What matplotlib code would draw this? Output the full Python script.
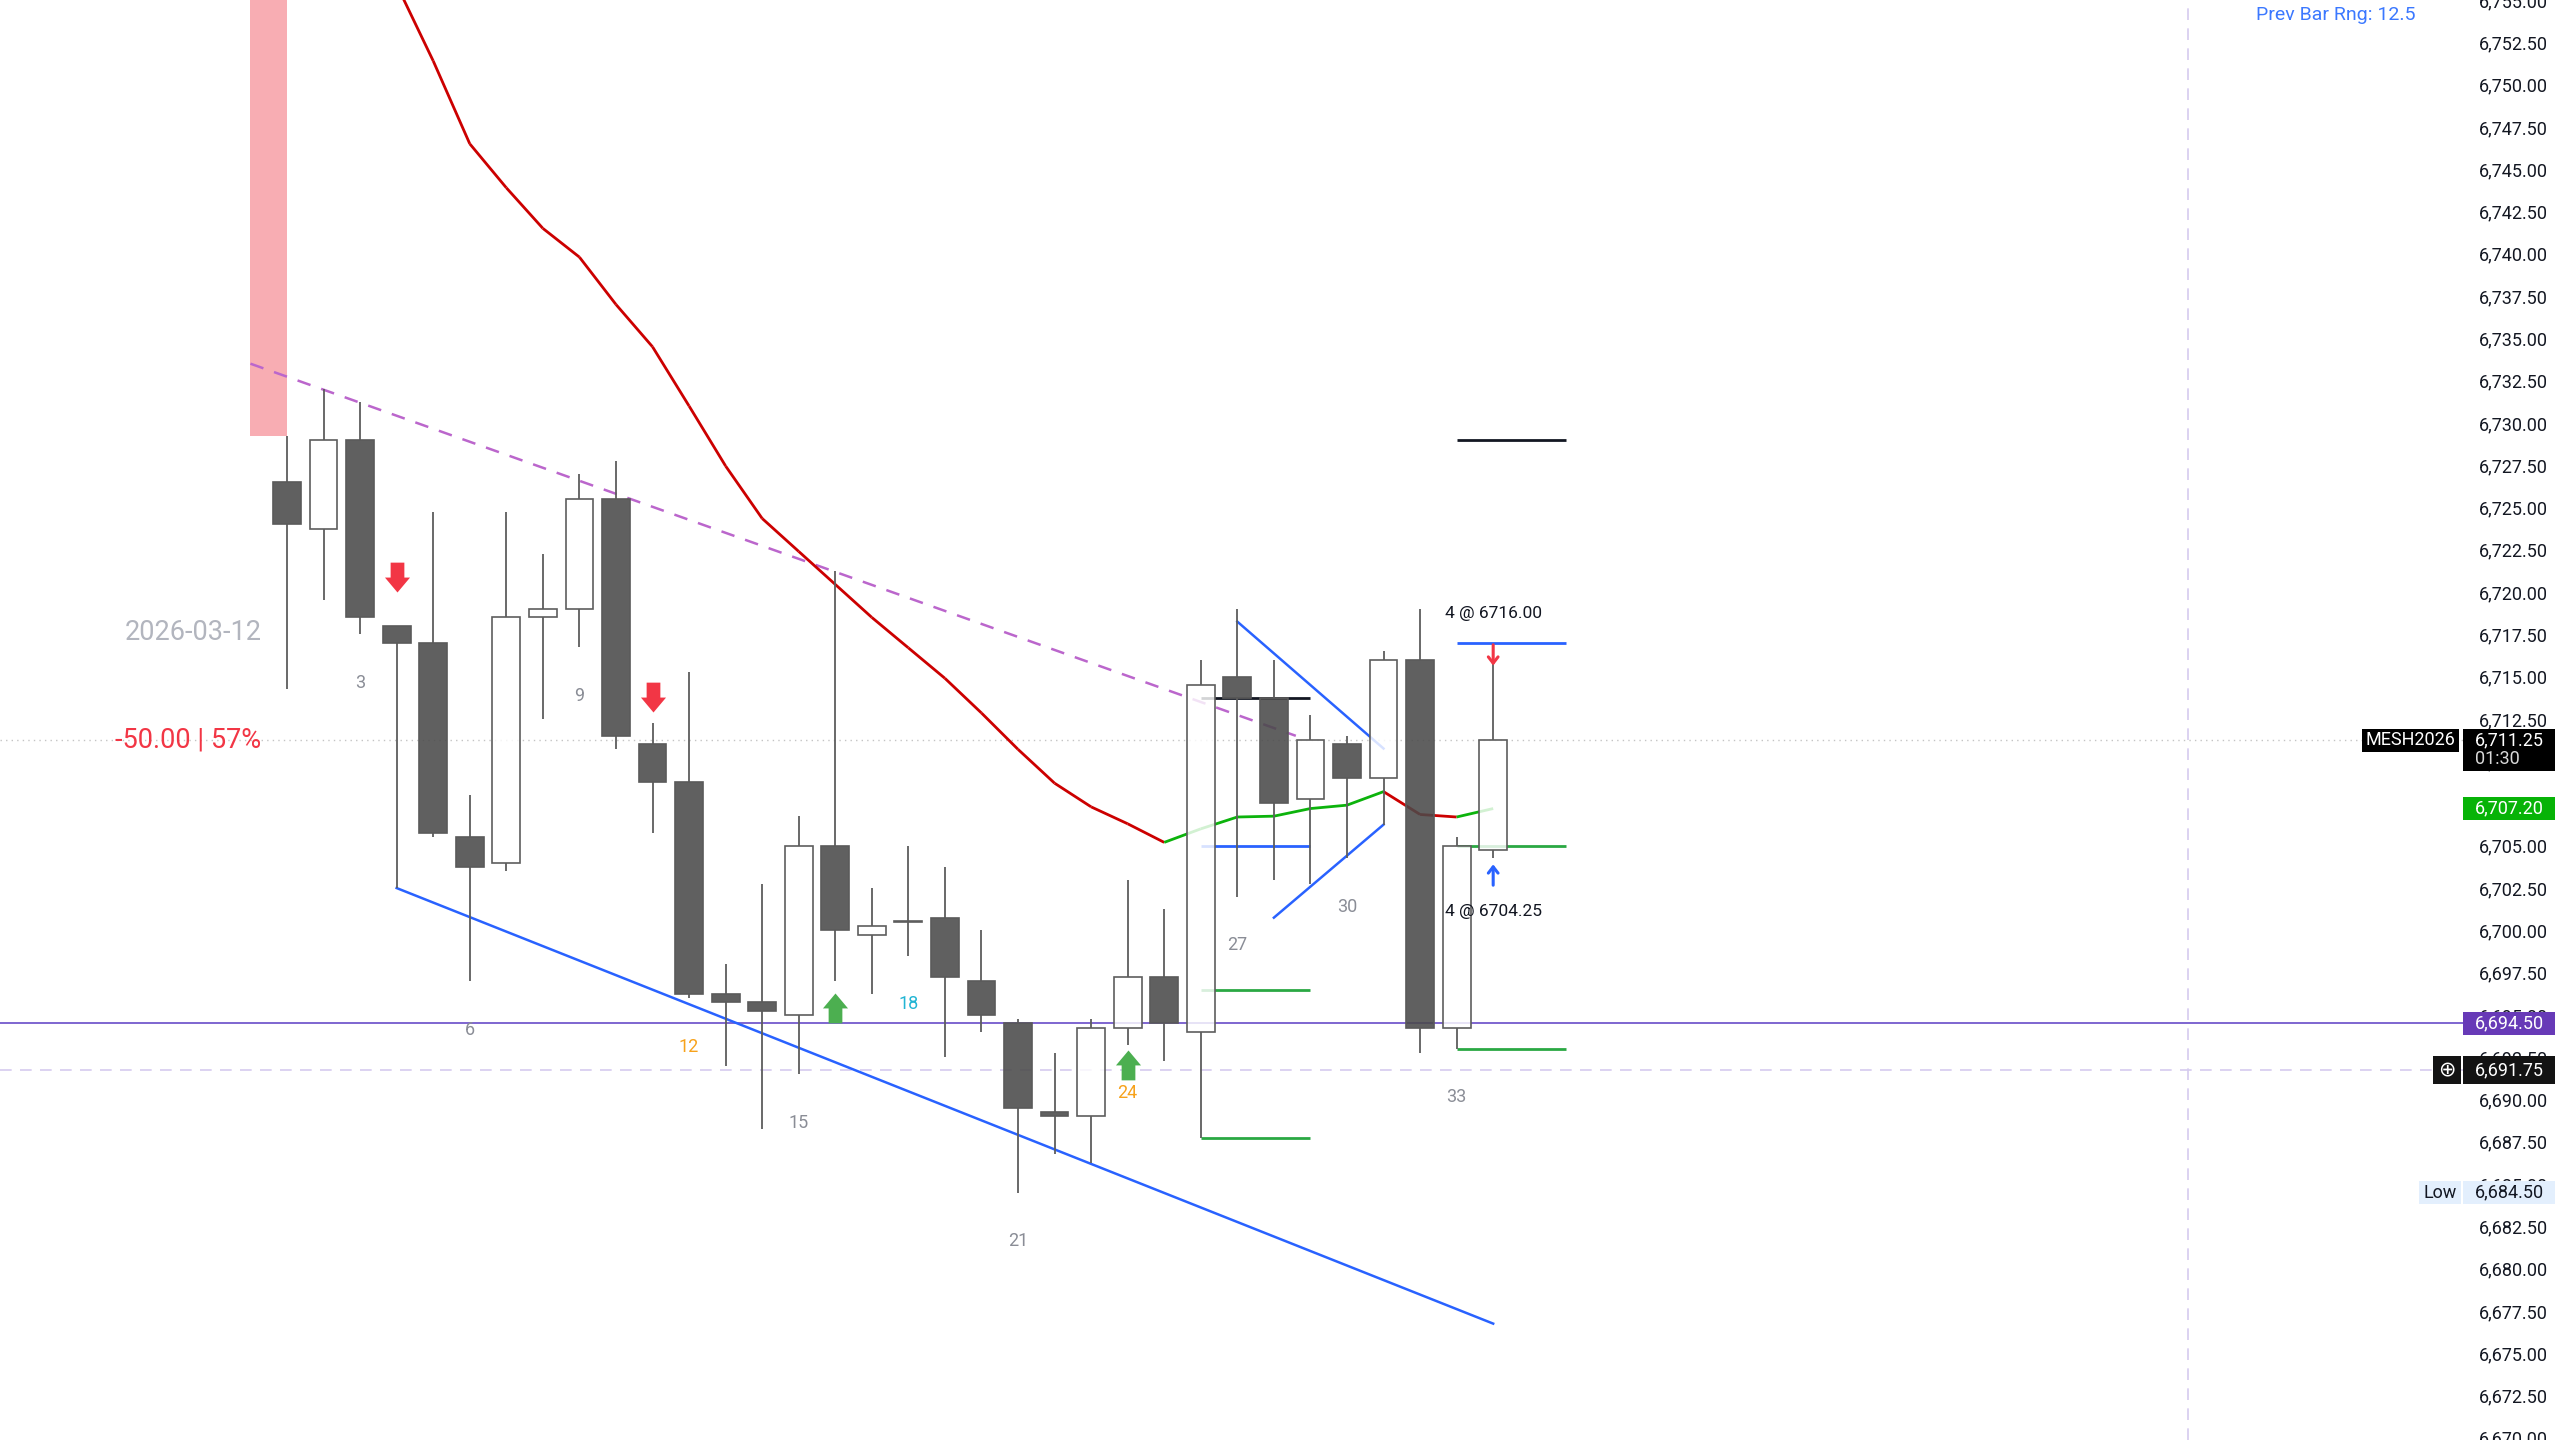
import matplotlib
matplotlib.use("Agg")
import matplotlib.pyplot as plt
import numpy as np
from matplotlib.collections import LineCollection
from matplotlib.patches import Rectangle
from matplotlib.path import Path
from matplotlib.transforms import blended_transform_factory
from matplotlib.ticker import FuncFormatter

plt.rcParams['font.family'] = ['Roboto', 'DejaVu Sans']

# ---- candles (bar index 1..34) ----
bars = np.arange(1, 35)
opens = [6726.5, 6723.75, 6729.0, 6718.0, 6717.0, 6705.5, 6704.0, 6718.5, 6719.0, 6725.5,
         6711.0, 6708.75, 6696.25, 6695.75, 6695.0, 6705.0, 6699.75, 6700.5, 6700.75, 6697.0,
         6694.5, 6689.25, 6689.0, 6694.25, 6697.25, 6694.0, 6715.0, 6713.75, 6707.75, 6711.0,
         6709.0, 6716.0, 6694.25, 6704.75]
highs = [6729.25, 6732.0, 6731.25, 6718.0, 6724.75, 6708.0, 6724.75, 6722.25, 6727.0, 6727.75,
         6712.25, 6715.25, 6698.0, 6702.75, 6706.75, 6721.25, 6702.5, 6705.0, 6703.75, 6700.0,
         6694.75, 6692.75, 6694.75, 6703.0, 6701.25, 6716.0, 6719.0, 6716.0, 6712.75, 6711.5,
         6716.5, 6719.0, 6705.5, 6716.0]
lows = [6714.25, 6719.5, 6717.5, 6702.5, 6705.5, 6697.0, 6703.5, 6712.5, 6716.75, 6710.75,
        6705.75, 6696.0, 6692.0, 6688.25, 6691.5, 6697.0, 6696.25, 6698.5, 6692.5, 6694.0,
        6684.5, 6686.75, 6686.25, 6693.25, 6692.25, 6687.75, 6702.0, 6703.0, 6702.75, 6704.25,
        6706.25, 6692.75, 6693.0, 6704.25]
closes = [6724.0, 6729.0, 6718.5, 6717.0, 6705.75, 6703.75, 6718.5, 6719.0, 6725.5, 6711.5,
          6708.75, 6696.25, 6695.75, 6695.25, 6705.0, 6700.0, 6700.25, 6700.5, 6697.25, 6695.0,
          6689.5, 6689.0, 6694.25, 6697.25, 6694.5, 6714.5, 6713.75, 6707.5, 6711.25, 6709.0,
          6716.0, 6694.25, 6705.0, 6711.25]

# ---- moving average (bars 4..34) ----
ema_bars = np.arange(4, 35)
ema_vals = [6755.9, 6751.4, 6746.5, 6743.9, 6741.5, 6739.8, 6737.0, 6734.5, 6731.0, 6727.45,
            6724.35, 6722.4, 6720.45, 6718.5, 6716.7, 6714.9, 6712.85, 6710.7, 6708.7, 6707.3,
            6706.3, 6705.2, 6706.0, 6706.7, 6706.75, 6707.2, 6707.4, 6708.2, 6706.85, 6706.7,
            6707.2]

# ---- drawings ----
upper_trend_x = [0, 28.6]
upper_trend_y = [6733.5, 6711.5]
lower_trend_x = [4, 34]
lower_trend_y = [6702.5, 6676.75]
wedge_top_x = [27, 31]
wedge_top_y = [6718.25, 6710.75]
wedge_bot_x = [28, 31]
wedge_bot_y = [6700.75, 6706.25]

level_start = [26, 26, 26, 26, 33, 33, 33, 33]
level_end = [29, 29, 29, 29, 36, 36, 36, 36]
level_price = [6713.75, 6705.0, 6696.5, 6687.75, 6729.0, 6717.0, 6705.0, 6693.0]
level_color = ['#131722', '#2962ff', '#2aa843', '#2aa843', '#131722', '#2962ff', '#2aa843', '#2aa843']

zone_x = [0, 1]
zone_low = 6729.25
zone_high = 6760.0

count_bars = [3, 6, 9, 12, 15, 18, 21, 24, 27, 30, 33]
count_colors = ['#8a8d96', '#8a8d96', '#8a8d96', '#f7a21b', '#8a8d96', '#22b5d4',
                '#8a8d96', '#f7a21b', '#8a8d96', '#8a8d96', '#8a8d96']

sell_bars = [4, 11]
sell_tips = [6720.0, 6712.9]
buy_bars = [16, 24]
buy_tips = [6696.3, 6692.9]

last_price = 6711.25
ema_last = 6707.20
pos_level = 6694.50
cross_price = 6691.75
session_low = 6684.50
cross_bar = 53
prev_range = 12.5
fill_sell = 6716.00
fill_buy = 6704.25
qty = 4

W, H = 2560, 1440
AX_W = 2468
y0, y1 = 6669.87, 6754.98
ppx = (y1 - y0) / H   # price per pixel

fig = plt.figure(figsize=(25.6, 14.4), dpi=100)
ax = fig.add_axes([0, 0, AX_W / W, 1])
ax.set_xlim(-6.852, 60.67)
ax.set_ylim(y0, y1)
for s in ax.spines.values():
    s.set_visible(False)
ax.set_xticks([])
ax.set_yticks(np.arange(6670, 6755.1, 2.5))
ax.yaxis.set_major_formatter(FuncFormatter(lambda v, p: f"{v:,.2f}"))
ax.tick_params(axis='y', left=False, right=False, labelleft=False, labelright=True,
               pad=4, labelsize=13, labelcolor='#131722')

# background zone
ax.fill_between(zone_x, zone_low, zone_high, color='#f8adb3', lw=0, zorder=1)

# horizontal reference lines
ax.axhline(last_price, color='#c4c4c4', lw=1, ls=(0, (1, 3)), zorder=1)
ax.axhline(pos_level, color='#5b3cc4', lw=1.1, zorder=1.5)
ax.axhline(cross_price, color='#d5cbef', lw=1.2, ls=(0, (7, 5)), zorder=1)
ax.axvline(cross_bar, color='#d5cbef', lw=1.2, ls=(0, (7, 5)), zorder=1)

# trend lines
ax.plot(upper_trend_x, upper_trend_y, color='#bb66cc', lw=1.8, ls=(0, (5.5, 4.5)), zorder=2)
ax.plot(lower_trend_x, lower_trend_y, color='#2962ff', lw=1.8, zorder=2)
ax.plot(wedge_top_x, wedge_top_y, color='#2962ff', lw=1.8, zorder=2)
ax.plot(wedge_bot_x, wedge_bot_y, color='#2962ff', lw=1.8, zorder=2)
for xs, xe, p, c in zip(level_start, level_end, level_price, level_color):
    ax.plot([xs, xe], [p, p], color=c, lw=2.0, solid_capstyle='butt', zorder=2)

# moving average coloured by slope
pts = np.column_stack([ema_bars, ema_vals])
segs = np.stack([pts[:-1], pts[1:]], axis=1)
seg_cols = ['#0cb30c' if b >= a else '#cc0000' for a, b in zip(ema_vals[:-1], ema_vals[1:])]
ax.add_collection(LineCollection(segs, colors=seg_cols, linewidths=2.0, zorder=2))

# candles
o = np.array(opens); c = np.array(closes); hi = np.array(highs); lo = np.array(lows)
up = c >= o
btop = np.maximum(o, c); bbot = np.minimum(o, c)
bh = np.maximum(btop - bbot, 0.06)
ax.vlines(bars, btop, hi, color='#5d5d5d', lw=1.3, zorder=3)
ax.vlines(bars, lo, bbot, color='#5d5d5d', lw=1.3, zorder=3)
ax.bar(bars[up], bh[up], bottom=bbot[up], width=0.76, facecolor=(1, 1, 1, 0.82),
       edgecolor='#5d5d5d', linewidth=1.2, zorder=4)
ax.bar(bars[~up], bh[~up], bottom=bbot[~up], width=0.76, facecolor=(0.29, 0.29, 0.29, 0.88),
       edgecolor='#5a5a5a', linewidth=1.2, zorder=4)

# bar counts
for n, col in zip(count_bars, count_colors):
    ax.annotate(str(n), xy=(n, lows[n - 1]), xytext=(0, -35), textcoords='offset points',
                ha='center', va='center', fontsize=13, color=col, zorder=6)

# signal arrows
down_arrow = Path([(0, 0), (0.42, 0.5), (0.23, 0.5), (0.23, 1), (-0.23, 1), (-0.23, 0.5),
                   (-0.42, 0.5), (0, 0)], closed=True)
up_arrow = Path([(0, 0), (0.42, -0.5), (0.23, -0.5), (0.23, -1), (-0.23, -1), (-0.23, -0.5),
                 (-0.42, -0.5), (0, 0)], closed=True)
ax.plot(sell_bars, sell_tips, ls='none', marker=down_arrow, markersize=43,
        color='#f23645', markeredgewidth=0, zorder=6)
ax.plot(buy_bars, buy_tips, ls='none', marker=up_arrow, markersize=43,
        color='#4caf50', markeredgewidth=0, zorder=6)

# fills on last bar
ax.annotate('', xy=(34, fill_sell - 0.35), xytext=(0, 15), textcoords='offset points',
            arrowprops=dict(arrowstyle='->,head_length=0.45,head_width=0.35', color='#f23645',
                            lw=2.2, shrinkA=0, shrinkB=0), zorder=6)
ax.annotate('', xy=(34, fill_buy - 0.35), xytext=(0, -15), textcoords='offset points',
            arrowprops=dict(arrowstyle='->,head_length=0.45,head_width=0.35', color='#2962ff',
                            lw=2.2, shrinkA=0, shrinkB=0), zorder=6)
ax.annotate(f"{qty} @ {fill_sell:.2f}", xy=(34, fill_sell), xytext=(0, 33),
            textcoords='offset points', ha='center', va='center', fontsize=12.5,
            color='#131722', zorder=8)
ax.annotate(f"{qty} @ {fill_buy:.2f}", xy=(34, fill_buy), xytext=(0, -38),
            textcoords='offset points', ha='center', va='center', fontsize=12.5,
            color='#131722', zorder=8)

# session texts
ax.text(0.3, 6717.6, "2026-03-12", ha='right', va='center', fontsize=19.5, color='#b2b5be')
ax.text(0.3, last_price, "-50.00 | 57%", ha='right', va='center', fontsize=19.5, color='#f23645')
ax.text(2336 / AX_W, 1 - 15 / H, f"Prev Bar Rng: {prev_range}", transform=ax.transAxes,
        ha='center', va='center', fontsize=14, color='#3b78ff')

# price tags on the scale
tr = blended_transform_factory(fig.transFigure, ax.transData)


def tag(price, x0, x1, fc, text, tc='white', h=23, center=False, fs=13, family=None):
    ax.add_patch(Rectangle((x0 / W, price - h / 2 * ppx), (x1 - x0) / W, h * ppx,
                           transform=tr, facecolor=fc, edgecolor='none', clip_on=False, zorder=7))
    tx = (x0 + x1) / 2 if center else x0 + 12
    kw = dict(family=family) if family else {}
    ax.text(tx / W, price, text, transform=tr, ha='center' if center else 'left',
            va='center', fontsize=fs, color=tc, zorder=8, **kw)


tag(last_price, 2362, 2459, '#000000', "MESH2026", center=True)
ax.add_patch(Rectangle((2463 / W, last_price - 31 * ppx), 92 / W, 42 * ppx, transform=tr,
                       facecolor='#000000', edgecolor='none', clip_on=False, zorder=7))
ax.text(2475 / W, last_price, f"{last_price:,.2f}", transform=tr, ha='left', va='center',
        fontsize=13, color='white', zorder=8)
ax.text(2475 / W, last_price - 19 * ppx, "01:30", transform=tr, ha='left', va='center',
        fontsize=13, color='#d8d8d8', zorder=8)
tag(ema_last, 2463, 2555, '#07b307', f"{ema_last:,.2f}")
tag(pos_level, 2463, 2555, '#673ab7', f"{pos_level:,.2f}")
tag(cross_price, 2433, 2461, '#131313', "\u2295", center=True, h=28, fs=15, family='DejaVu Sans')
tag(cross_price, 2463, 2555, '#131313', f"{cross_price:,.2f}", h=28)
tag(session_low, 2419, 2461, '#e3effd', "Low", tc='#131722', center=True)
tag(session_low, 2463, 2555, '#e3effd', f"{session_low:,.2f}", tc='#131722')

fig.savefig('out.png', dpi=100, facecolor='white')
